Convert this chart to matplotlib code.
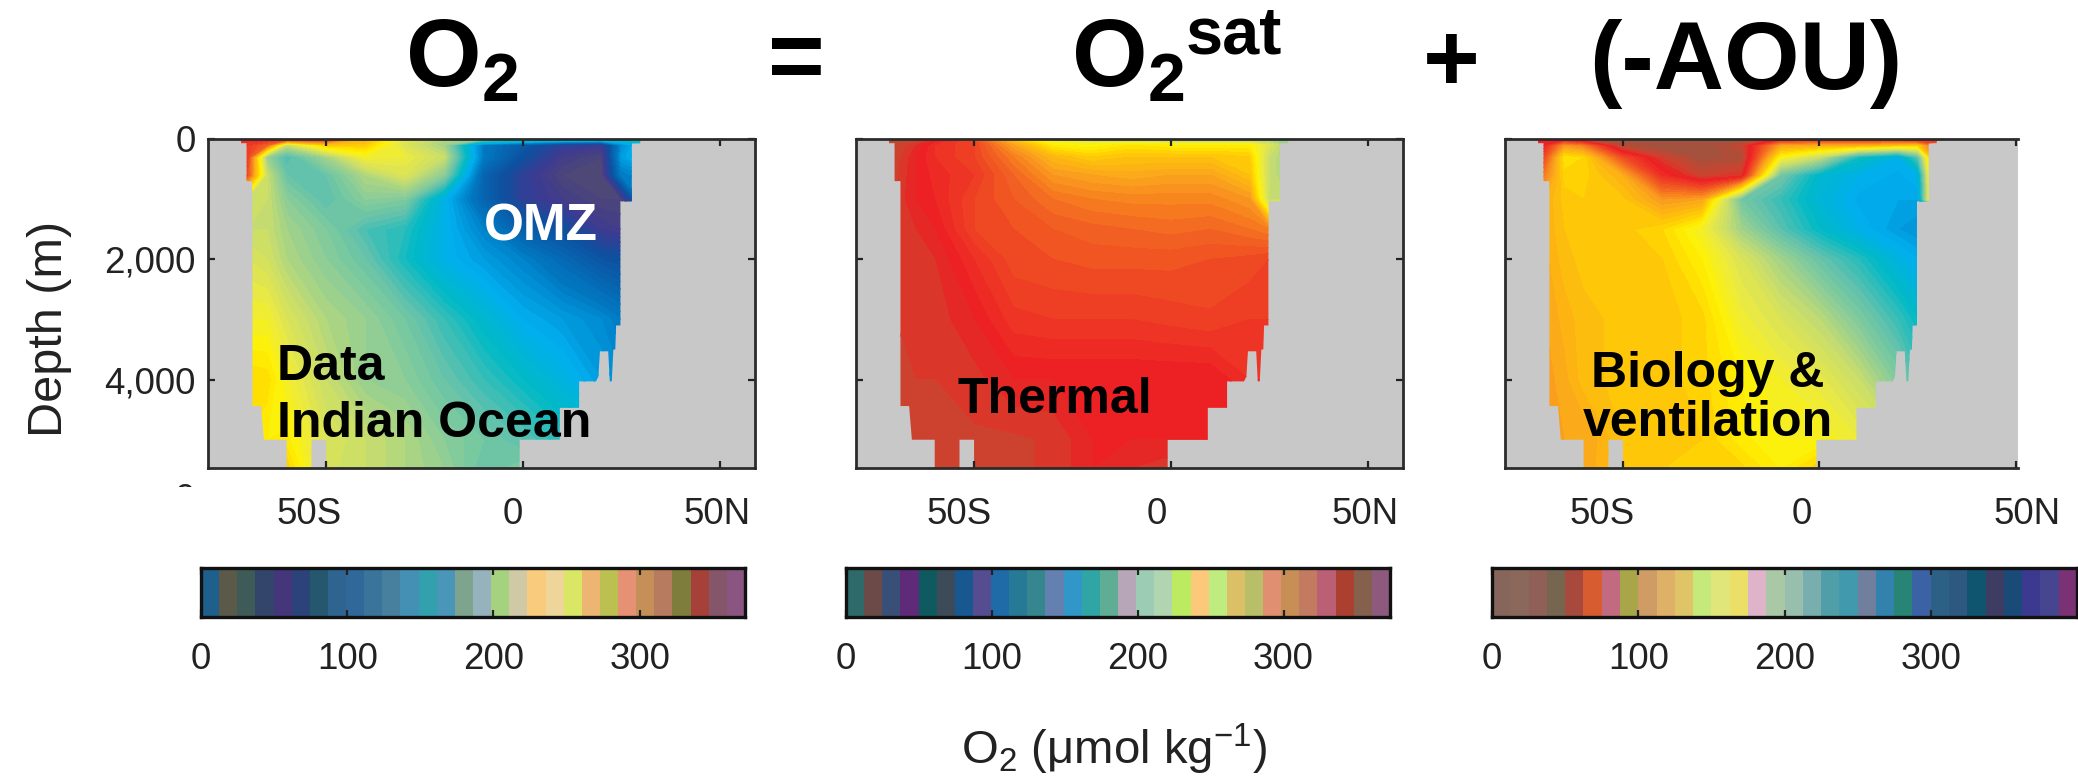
import matplotlib
matplotlib.use('Agg')
import matplotlib.pyplot as plt
import numpy as np
from matplotlib.colors import LinearSegmentedColormap, ListedColormap
from matplotlib.patches import Polygon
from matplotlib.transforms import Bbox

plt.rcParams.update({
    'font.family': ['Liberation Sans', 'DejaVu Sans'],
    'mathtext.fontset': 'custom',
    'mathtext.rm': 'Liberation Sans',
    'mathtext.it': 'Liberation Sans:italic',
    'mathtext.bf': 'Liberation Sans:bold',
})

W, H = 2078, 782

# Grid of the sections, values in umol/kg
lats = [-75, -70, -65, -60, -50, -40, -30, -20, -10, 0, 10, 20, 25, 30]
depths = [0, 100, 300, 600, 1000, 1500, 2000, 3000, 4000, 5000, 5500]

o2_data = [
    [340, 340, 340, 340, 330, 280, 230, 205, 190, 180, 170, 160, 150, 160],
    [330, 330, 310, 215, 265, 265, 225, 200, 90, 60, 30, 20, 100, 130],
    [330, 330, 195, 165, 200, 240, 235, 215, 90, 50, 15, 5, 110, 130],
    [320, 320, 215, 175, 175, 205, 225, 190, 70, 30, 5, 0, 90, 100],
    [220, 220, 215, 190, 170, 190, 185, 125, 70, 30, 15, 5, 5, 90],
    [215, 215, 215, 200, 185, 165, 155, 125, 95, 65, 50, 20, 15, 15],
    [225, 225, 220, 205, 190, 175, 150, 125, 110, 95, 75, 55, 50, 50],
    [240, 240, 240, 225, 205, 195, 180, 160, 140, 120, 110, 100, 90, 90],
    [260, 260, 258, 240, 215, 195, 190, 175, 160, 145, 130, 110, 100, 100],
    [255, 255, 250, 252, 225, 215, 205, 190, 180, 170, 155, 150, 150, 150],
    [255, 255, 255, 265, 222, 215, 205, 195, 175, 185, 160, 150, 150, 150],
]
o2sat_data = [
    [370, 365, 360, 345, 320, 265, 235, 215, 205, 200, 200, 200, 195, 195],
    [365, 360, 350, 335, 325, 285, 250, 245, 255, 250, 250, 250, 225, 200],
    [360, 358, 345, 335, 325, 300, 275, 265, 270, 270, 270, 265, 215, 200],
    [358, 356, 345, 338, 330, 310, 290, 285, 282, 285, 285, 270, 215, 200],
    [356, 354, 345, 340, 325, 315, 305, 300, 298, 298, 298, 290, 215, 215],
    [355, 355, 350, 345, 325, 320, 315, 312, 310, 308, 310, 305, 300, 300],
    [355, 355, 355, 350, 335, 322, 320, 318, 318, 318, 320, 322, 325, 325],
    [355, 355, 355, 353, 345, 332, 330, 330, 330, 328, 326, 330, 330, 330],
    [357, 356, 355, 355, 352, 345, 345, 345, 345, 345, 345, 335, 335, 335],
    [358, 356, 356, 356, 356, 356, 354, 345, 345, 345, 345, 345, 345, 345],
    [358, 358, 356, 356, 356, 356, 354, 345, 350, 354, 354, 354, 354, 354],
]
aou_data = [
    [345, 345, 345, 360, 375, 375, 375, 375, 340, 335, 335, 335, 345, 330],
    [340, 340, 290, 300, 365, 375, 375, 360, 285, 280, 280, 270, 265, 320],
    [340, 320, 255, 260, 320, 355, 372, 368, 245, 215, 150, 125, 170, 320],
    [330, 300, 262, 262, 280, 335, 358, 350, 180, 140, 125, 118, 125, 320],
    [300, 280, 268, 265, 268, 290, 285, 180, 160, 135, 118, 115, 115, 320],
    [290, 280, 270, 268, 267, 260, 240, 200, 170, 145, 125, 110, 105, 105],
    [285, 282, 272, 268, 268, 265, 250, 225, 200, 175, 155, 130, 120, 120],
    [285, 285, 278, 272, 268, 268, 262, 238, 225, 210, 185, 160, 145, 145],
    [288, 288, 282, 272, 268, 268, 262, 250, 240, 232, 215, 185, 165, 165],
    [290, 288, 285, 285, 270, 268, 265, 252, 245, 245, 235, 220, 220, 220],
    [288, 288, 288, 285, 268, 265, 262, 262, 250, 265, 260, 260, 260, 260],
]

# Basin outline
coast_lat = [-71.6, 29.8, 29.8, 27.7, 27.7, 24.8, 24.8, 23.7, 23.5, 23, 22.6, 22.1,
             21.7, 19.6, 19.2, 18.6, 14.3, 14.3, 13.3, 9.4, 9.4, -0.8, -0.8, -50,
             -50, -53.7, -53.7, -60, -60, -65.8, -66.5, -68.7, -68.7, -70.2, -70.2, -71.6]
coast_depth = [0, 0, 70, 70, 1036, 1036, 3100, 3100, 3500, 3500, 4030, 4030,
               3530, 3530, 3950, 4030, 4030, 4470, 4470, 4470, 5000, 5000, 5600, 5600,
               5000, 5000, 5600, 5600, 5000, 5000, 4440, 4440, 700, 700, 70, 70]

# Colours of the sections
section_values = [0, 20, 50, 90, 120, 145, 170, 195, 215, 235, 250, 265, 285, 300,
                  315, 330, 345, 355, 380]
section_colors = ['#4f4a72', '#3f3a90', '#0e4f9f', '#0079c1', '#00aeef', '#00b9c6',
                  '#5cc1ae', '#95cf92', '#c9dd6c', '#ecea3f', '#fff200', '#ffcc05',
                  '#fba61c', '#f7801f', '#f15a22', '#ee3a24', '#ed1c24', '#d33f2c',
                  '#8f5a45']

# Blocks of the three colour bars
bar1_colors = ['#1f5f8b', '#5b5a48', '#3f5b58', '#34456b', '#45357a', '#2b4379', '#25586f',
               '#2f6490', '#30689a', '#3a749a', '#47809f', '#4490b5', '#33a0ae', '#4a96b8',
               '#7fa48d', '#96b3bd', '#a4d27f', '#cfc9a5', '#f8cb7d', '#eed69a', '#d9e764',
               '#ecb571', '#bcc050', '#e69173', '#c49058', '#b77c5f', '#7f7d3c', '#a6413a',
               '#85566a', '#8a5580']
bar2_colors = ['#2e6a6a', '#6b4a48', '#3a4f78', '#5f2a78', '#0e5a60', '#3d4a58', '#16588f',
               '#564d90', '#1f6ba8', '#267a95', '#368690', '#6480b0', '#3097c8', '#2fa5a5',
               '#5fad94', '#b7a5b8', '#9cccb4', '#b0d5b0', '#bcea60', '#fcc97a', '#bfec80',
               '#dcc068', '#b8bf68', '#e09070', '#c78f55', '#c27a60', '#bb5f75', '#ac4030',
               '#85604d', '#8d5a7d']
bar3_colors = ['#86665a', '#8a685c', '#8f5f58', '#766650', '#a8493d', '#d75c30', '#c26a80',
               '#a9a64a', '#cf9c65', '#deb068', '#e0c468', '#c5e97a', '#e0e67a', '#ebdf68',
               '#dfb4cb', '#a9c8a5', '#98bfae', '#78aead', '#4f9ea8', '#4099ad', '#717f9f',
               '#3282ad', '#288575', '#3a62a5', '#2d6085', '#2d5880', '#0f5570', '#3e3c62',
               '#1a4a78', '#3c3a90', '#454590', '#7a3275']

lat_labels = ['50S', '0', '50N']


def fig_axes(x0, y0, x1, y1):
    # pixel box of the reference to figure fractions
    return fig.add_axes([x0 / W, 1 - y1 / H, (x1 - x0) / W, (y1 - y0) / H])


def px_text(x, y, txt, **kw):
    return fig.text(x / W, 1 - y / H, txt, ha='center', va='center', **kw)


section_cmap = LinearSegmentedColormap.from_list(
    'section', [(v / 380, c) for v, c in zip(section_values, section_colors)], N=512)

fig = plt.figure(figsize=(W / 100, H / 100), dpi=100, facecolor='white')

panels = [(o2_data, 208, 755, 59, [309, 513, 717]),
          (o2sat_data, 856, 1403, 59, [959, 1157, 1365]),
          (aou_data, 1505, 2018, 50.5, [1602, 1802, 2027])]
section_axes = []
for data, x0, x1, lat_max, label_x in panels:
    ax = fig_axes(x0, 139, x1, 468)
    ax.set_facecolor('#c8c8c8')
    cs = ax.contourf(lats, depths, np.array(data), levels=np.linspace(0, 380, 77),
                     cmap=section_cmap, vmin=0, vmax=380)
    outline = Polygon(list(zip(coast_lat, coast_depth)), transform=ax.transData)
    cs.set_clip_path(outline)
    ax.set_xlim(-80, lat_max)
    ax.set_ylim(5470, 0)
    ax.set_xticks([-50, 0, 50])
    ax.set_xticklabels([])
    ax.set_yticks([0, 2000, 4000])
    ax.set_yticklabels([])
    ax.tick_params(axis='x', direction='in', top=True, length=5, width=1.6, colors='#222222')
    ax.tick_params(axis='y', direction='in', right=True, length=5, width=1.6, pad=9,
                   labelsize=26.5, colors='#222222')
    for sp in ax.spines.values():
        sp.set_linewidth(2)
        sp.set_color('#2b2b2b')
    # the lat labels sit a bit off their ticks in the original
    for lab, lx in zip(lat_labels, label_x):
        px_text(lx, 514, lab, fontsize=26.5, color='#222222')
    section_axes.append(ax)

section_axes[0].set_yticklabels(['0', '2,000', '4,000'])
section_axes[2].spines['right'].set_visible(False)
section_axes[2].tick_params(axis='y', right=False)

# 6,000 label is cut off in the original, only the top of the last digit shows
cut = section_axes[0].text(-83.2, 6000, '6,000', ha='right', va='center', fontsize=26.5,
                           color='#222222', clip_on=True)
cut.set_clip_box(Bbox([[178, H - 487], [200, H - 478]]))

# Colour bars
bars = [(bar1_colors, 201, 745, 372), (bar2_colors, 846, 1390, 373), (bar3_colors, 1492, 2077, 400)]
for colors, x0, x1, vmax in bars:
    cax = fig_axes(x0, 568, x1, 617)
    edges = np.linspace(0, vmax, len(colors) + 1)
    cax.pcolormesh(edges, [0, 1], np.arange(len(colors)).reshape(1, -1),
                   cmap=ListedColormap(colors), vmin=-0.5, vmax=len(colors) - 0.5)
    cax.set_xlim(0, vmax)
    cax.set_yticks([])
    cax.set_xticks([0, 100, 200, 300])
    cax.tick_params(axis='x', direction='in', top=True, length=5, width=1.6, pad=18,
                    labelsize=26.5, colors='#222222')
    for sp in cax.spines.values():
        sp.set_linewidth(2.4)
        sp.set_color('#111111')

# Labels inside the panels
ax1, ax2, ax3 = section_axes
ax1.text(4.5, 1460, 'OMZ', color='white', fontsize=37, fontweight='bold', ha='center', va='center')
ax1.text(-62.5, 3790, 'Data', color='black', fontsize=36, fontweight='bold', ha='left', va='center')
ax1.text(-62.5, 4745, 'Indian Ocean', color='black', fontsize=36, fontweight='bold', ha='left', va='center')
ax2.text(-29.5, 4340, 'Thermal', color='black', fontsize=36, fontweight='bold', ha='center', va='center')
ax3.text(-28.5, 3915, 'Biology &', color='black', fontsize=36, fontweight='bold', ha='center', va='center')
ax3.text(-28.5, 4715, 'ventilation', color='black', fontsize=36, fontweight='bold', ha='center', va='center')

# Equation on top
for txt, x, y in [(r'$\mathbf{O_2}$', 462, 62), ('=', 796, 64), (r'$\mathbf{O_2}$', 1128, 62),
                  ('+', 1451, 66), ('(-AOU)', 1746, 64)]:
    px_text(x, y, txt, fontsize=70, fontweight='bold', color='black')
px_text(1234, 36, 'sat', fontsize=48, fontweight='bold', color='black')

px_text(50, 329, 'Depth (m)', rotation=90, fontsize=35, color='#222222')
px_text(1114, 749, r'O$_2$ ($\mathrm{\mu}$mol kg$^{-1}$)', fontsize=34, color='#222222')

fig.savefig('out.png', dpi=100, facecolor='white')
